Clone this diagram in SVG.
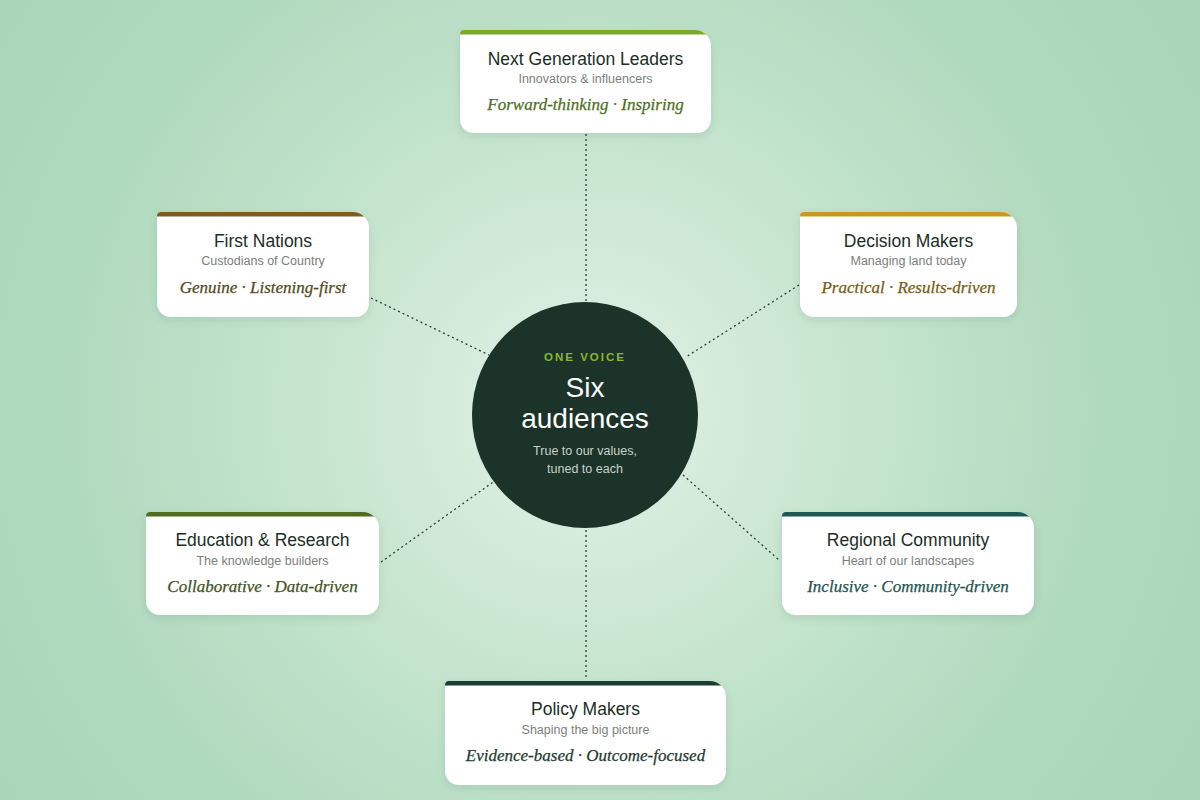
<svg xmlns="http://www.w3.org/2000/svg" width="1200" height="800" viewBox="0 0 1200 800">
<defs>
<radialGradient id="bg" cx="585" cy="410" r="720" gradientUnits="userSpaceOnUse">
<stop offset="0" stop-color="#e3f1e6"/>
<stop offset="0.35" stop-color="#c8e6d0"/>
<stop offset="0.75" stop-color="#aed9bd"/>
<stop offset="1" stop-color="#a8d6b7"/>
</radialGradient>
<filter id="sh" x="-10%" y="-10%" width="120%" height="130%">
<feDropShadow dx="0" dy="3" stdDeviation="4" flood-color="#1b3327" flood-opacity="0.10"/>
</filter>
</defs>
<style>
.card{fill:#ffffff;filter:url(#sh);}
.title{font-family:"Liberation Sans",Arial,sans-serif;font-size:17.5px;fill:#1b2e25;text-anchor:middle;}
.sub{font-family:"Liberation Sans",Arial,sans-serif;font-size:12.5px;fill:#7b7f7c;text-anchor:middle;}
.tag{font-family:"Liberation Serif","Times New Roman",serif;font-style:italic;font-size:17px;text-anchor:middle;stroke-width:0.25px;}
.conn{stroke:#2a4036;stroke-width:1.3;stroke-dasharray:2 3;fill:none;}
</style>
<rect width="1200" height="800" fill="url(#bg)"/>

<g id="connectors">
<line class="conn" x1="586" y1="134" x2="586" y2="303"/>
<line class="conn" x1="586" y1="530" x2="586" y2="680"/>
<line class="conn" x1="371" y1="298" x2="489" y2="355"/>
<line class="conn" x1="799" y1="285" x2="686" y2="357"/>
<line class="conn" x1="381" y1="562" x2="496" y2="480"/>
<line class="conn" x1="683" y1="475" x2="779" y2="560"/>
</g>

<g id="center">
<circle cx="585" cy="415" r="113" fill="#1b3328"/>
<text x="585" y="361" font-family="Liberation Sans,Arial,sans-serif" font-size="11.5" font-weight="bold" letter-spacing="2" fill="#8bb82b" text-anchor="middle">ONE VOICE</text>
<text x="585" y="397" font-family="Liberation Sans,Arial,sans-serif" font-size="28" fill="#ffffff" text-anchor="middle">Six</text>
<text x="585" y="428" font-family="Liberation Sans,Arial,sans-serif" font-size="28" fill="#ffffff" text-anchor="middle">audiences</text>
<text x="585" y="455" font-family="Liberation Sans,Arial,sans-serif" font-size="12.5" fill="#c9d2cc" text-anchor="middle">True to our values,</text>
<text x="585" y="473" font-family="Liberation Sans,Arial,sans-serif" font-size="12.5" fill="#c9d2cc" text-anchor="middle">tuned to each</text>
</g>

<g id="node-nextgen">
<clipPath id="c1"><path d="M464,30 H695 A16,16 0 0 1 711,46 V119 A14,14 0 0 1 697,133 H474 A14,14 0 0 1 460,119 V34 A4,4 0 0 1 464,30 Z"/></clipPath>
<path class="card" d="M464,30 H695 A16,16 0 0 1 711,46 V119 A14,14 0 0 1 697,133 H474 A14,14 0 0 1 460,119 V34 A4,4 0 0 1 464,30 Z"/>
<rect x="460" y="30" width="251" height="4.5" fill="#7fa72a" clip-path="url(#c1)"/>
<text class="title" x="585.5" y="65">Next Generation Leaders</text>
<text class="sub" x="585.5" y="83">Innovators &amp; influencers</text>
<text class="tag" x="585.5" y="110" fill="#4d6f1c" stroke="#4d6f1c">Forward-thinking · Inspiring</text>
</g>

<g id="node-firstnations">
<clipPath id="c2"><path d="M161,212 H353 A16,16 0 0 1 369,228 V303 A14,14 0 0 1 355,317 H171 A14,14 0 0 1 157,303 V216 A4,4 0 0 1 161,212 Z"/></clipPath>
<path class="card" d="M161,212 H353 A16,16 0 0 1 369,228 V303 A14,14 0 0 1 355,317 H171 A14,14 0 0 1 157,303 V216 A4,4 0 0 1 161,212 Z"/>
<rect x="157" y="212" width="212" height="4.5" fill="#7a5d1f" clip-path="url(#c2)"/>
<text class="title" x="263" y="247">First Nations</text>
<text class="sub" x="263" y="265">Custodians of Country</text>
<text class="tag" x="263" y="293" fill="#54491a" stroke="#54491a">Genuine · Listening-first</text>
</g>

<g id="node-decision">
<clipPath id="c3"><path d="M804,212 H1001 A16,16 0 0 1 1017,228 V303 A14,14 0 0 1 1003,317 H814 A14,14 0 0 1 800,303 V216 A4,4 0 0 1 804,212 Z"/></clipPath>
<path class="card" d="M804,212 H1001 A16,16 0 0 1 1017,228 V303 A14,14 0 0 1 1003,317 H814 A14,14 0 0 1 800,303 V216 A4,4 0 0 1 804,212 Z"/>
<rect x="800" y="212" width="217" height="4.5" fill="#c8971f" clip-path="url(#c3)"/>
<text class="title" x="908.5" y="247">Decision Makers</text>
<text class="sub" x="908.5" y="265">Managing land today</text>
<text class="tag" x="908.5" y="293" fill="#7a5b15" stroke="#7a5b15">Practical · Results-driven</text>
</g>

<g id="node-education">
<clipPath id="c4"><path d="M150,512 H363 A16,16 0 0 1 379,528 V601 A14,14 0 0 1 365,615 H160 A14,14 0 0 1 146,601 V516 A4,4 0 0 1 150,512 Z"/></clipPath>
<path class="card" d="M150,512 H363 A16,16 0 0 1 379,528 V601 A14,14 0 0 1 365,615 H160 A14,14 0 0 1 146,601 V516 A4,4 0 0 1 150,512 Z"/>
<rect x="146" y="512" width="233" height="4.5" fill="#4f6e1f" clip-path="url(#c4)"/>
<text class="title" x="262.5" y="546">Education &amp; Research</text>
<text class="sub" x="262.5" y="565">The knowledge builders</text>
<text class="tag" x="262.5" y="592" fill="#3f5321" stroke="#3f5321">Collaborative · Data-driven</text>
</g>

<g id="node-regional">
<clipPath id="c5"><path d="M786,512 H1018 A16,16 0 0 1 1034,528 V601 A14,14 0 0 1 1020,615 H796 A14,14 0 0 1 782,601 V516 A4,4 0 0 1 786,512 Z"/></clipPath>
<path class="card" d="M786,512 H1018 A16,16 0 0 1 1034,528 V601 A14,14 0 0 1 1020,615 H796 A14,14 0 0 1 782,601 V516 A4,4 0 0 1 786,512 Z"/>
<rect x="782" y="512" width="252" height="4.5" fill="#1d5954" clip-path="url(#c5)"/>
<text class="title" x="908" y="546">Regional Community</text>
<text class="sub" x="908" y="565">Heart of our landscapes</text>
<text class="tag" x="908" y="592" fill="#1d5550" stroke="#1d5550">Inclusive · Community-driven</text>
</g>

<g id="node-policy">
<clipPath id="c6"><path d="M449,681 H710 A16,16 0 0 1 726,697 V771 A14,14 0 0 1 712,785 H459 A14,14 0 0 1 445,771 V685 A4,4 0 0 1 449,681 Z"/></clipPath>
<path class="card" d="M449,681 H710 A16,16 0 0 1 726,697 V771 A14,14 0 0 1 712,785 H459 A14,14 0 0 1 445,771 V685 A4,4 0 0 1 449,681 Z"/>
<rect x="445" y="681" width="281" height="4.5" fill="#1a3d35" clip-path="url(#c6)"/>
<text class="title" x="585.5" y="715">Policy Makers</text>
<text class="sub" x="585.5" y="734">Shaping the big picture</text>
<text class="tag" x="585.5" y="761" fill="#1f3b31" stroke="#1f3b31">Evidence-based · Outcome-focused</text>
</g>
</svg>
